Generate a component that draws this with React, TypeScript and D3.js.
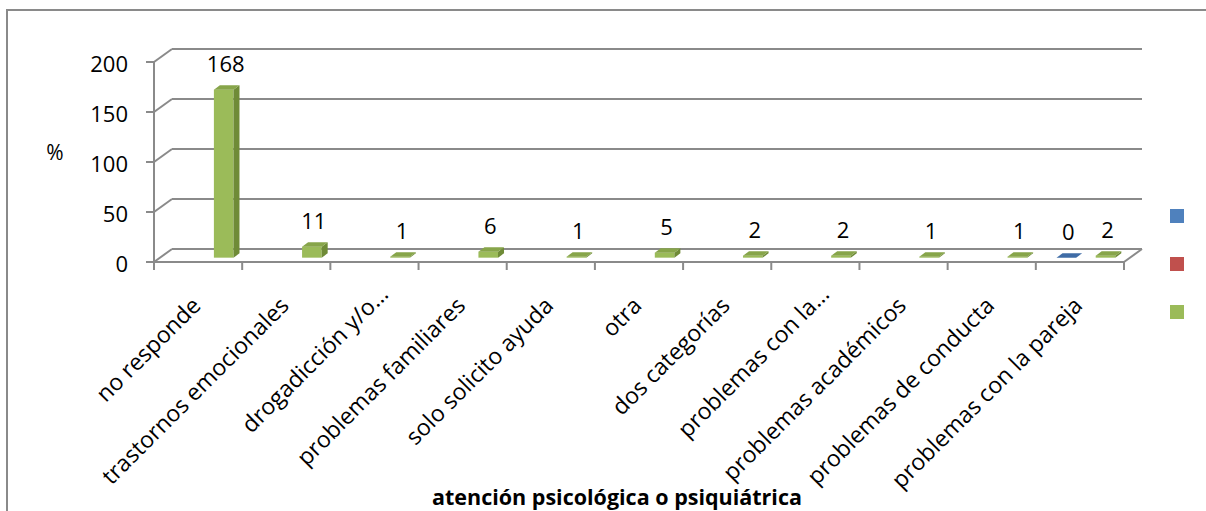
import React from 'react'
import * as d3 from 'd3'

const categories = [
  'no responde',
  'trastornos emocionales',
  'drogadicción y/o…',
  'problemas familiares',
  'solo solicito ayuda',
  'otra',
  'dos categorías',
  'problemas con la…',
  'problemas académicos',
  'problemas de conducta',
  'problemas con la pareja',
]
const seriesKeys = ['s1', 's2', 's3']
const blueValues: (number | null)[] = [null, null, null, null, null, null, null, null, null, null, 0]
const redValues: (number | null)[] = [null, null, null, null, null, null, null, null, null, null, null]
const greenValues: (number | null)[] = [168, 11, 1, 6, 1, 5, 2, 2, 1, 1, 2]
const yTicks = [0, 50, 100, 150, 200]

const palette = [
  { front: '#4F81BD', top: '#3F6CA6', side: '#385D8A' },
  { front: '#C0504D', top: '#A8423F', side: '#8C3836' },
  { front: '#9BBB59', top: '#87A54A', side: '#6F8B37' },
]

const W = 1206
const H = 511
const FONT = '"Open Sans", sans-serif'
const GRID = '#8a8a8a'

export default function App() {
  const series = [blueValues, redValues, greenValues]
  const x = d3.scaleBand<string>().domain(categories).range([154, 1124])
  const slot = d3.scaleBand<string>().domain(seriesKeys).range([0, x.bandwidth()]).paddingOuter(0.75)
  const y = d3.scaleLinear().domain([0, 200]).range([262, 62])
  // depth of the 3d box
  const dx = 18
  const dy = -13
  const z1 = 1 / 3
  const z2 = 2 / 3
  const [x0, x1] = x.range()
  const boundaries = categories.map(c => x(c)!).concat([x1])

  const bars: React.ReactNode[] = []
  const labels: React.ReactNode[] = []
  series.forEach((vals, si) => {
    vals.forEach((v, ci) => {
      if (v === null) return
      const xl = x(categories[ci])! + slot(seriesKeys[si])!
      const w = slot.bandwidth()
      const yv = y(v)
      const yb = y(0)
      const c = palette[si]
      const fx = xl + z1 * dx
      const bx = xl + z2 * dx
      const pts = (a: number[][]) => a.map(p => p.join(',')).join(' ')
      bars.push(
        <g key={`b${si}-${ci}`}>
          {v > 0 && <rect x={fx} y={yv + z1 * dy} width={w} height={yb - yv} fill={c.front} />}
          {v > 0 && (
            <polygon
              points={pts([[fx + w, yv + z1 * dy], [bx + w, yv + z2 * dy], [bx + w, yb + z2 * dy], [fx + w, yb + z1 * dy]])}
              fill={c.side}
            />
          )}
          <polygon
            points={pts([[fx, yv + z1 * dy], [fx + w, yv + z1 * dy], [bx + w, yv + z2 * dy], [bx, yv + z2 * dy]])}
            fill={c.top}
          />
        </g>
      )
      labels.push(
        <text key={`l${si}-${ci}`} x={fx + w / 2 + 2} y={yv + z1 * dy - 18} textAnchor="middle" fontSize={22}>
          {v}
        </text>
      )
    })
  })

  return (
    <svg width={W} height={H} style={{ position: 'absolute', left: 0, top: 0, background: '#fff' }} fontFamily={FONT}>
      {/* chart frame */}
      <path d={`M7,${H} V10 H${W}`} fill="none" stroke={GRID} strokeWidth={2} />

      {/* back wall gridlines and left wall */}
      {yTicks.map(t => (
        <g key={t}>
          <line x1={x0 + dx} x2={x1 + dx} y1={y(t) + dy} y2={y(t) + dy} stroke={GRID} strokeWidth={2} />
          <line x1={x0} x2={x0 + dx} y1={y(t)} y2={y(t) + dy} stroke={GRID} strokeWidth={2} />
          <line x1={x0 - 8} x2={x0} y1={y(t)} y2={y(t)} stroke={GRID} strokeWidth={2} />
          <text x={128} y={y(t) + 10} textAnchor="end" fontSize={22}>{t}</text>
        </g>
      ))}
      <line x1={x0} x2={x0} y1={y(200)} y2={y(0)} stroke={GRID} strokeWidth={2} />

      {/* floor front and right edge */}
      <line x1={x0} x2={x1} y1={y(0)} y2={y(0)} stroke={GRID} strokeWidth={2} />
      <line x1={x1} x2={x1 + dx} y1={y(0)} y2={y(0) + dy} stroke={GRID} strokeWidth={2} />
      {boundaries.map((b, i) => (
        <line key={i} x1={b} x2={b} y1={y(0)} y2={y(0) + 8} stroke={GRID} strokeWidth={2} />
      ))}

      {bars}
      {labels}

      {/* category labels */}
      {categories.map(c => {
        const cx = x(c)! + x.bandwidth() / 2
        const shift = c.endsWith('…') ? 16 : 0
        const ax = cx + 4 + shift * 0.707
        const ay = 307 - shift * 0.707
        return (
          <text key={c} transform={`translate(${ax},${ay}) rotate(-45)`} textAnchor="end" fontSize={23}>
            {c}
          </text>
        )
      })}

      <text x={55} y={160} textAnchor="middle" fontSize={21} fontWeight={500}>%</text>
      <text x={617} y={505} textAnchor="middle" fontSize={21.5} fontWeight={700}>
        atención psicológica o psiquiátrica
      </text>

      {/* legend (no text) */}
      {palette.map((p, i) => (
        <rect key={i} x={1170} y={209 + i * 48} width={14} height={14} fill={p.front} />
      ))}
    </svg>
  )
}
